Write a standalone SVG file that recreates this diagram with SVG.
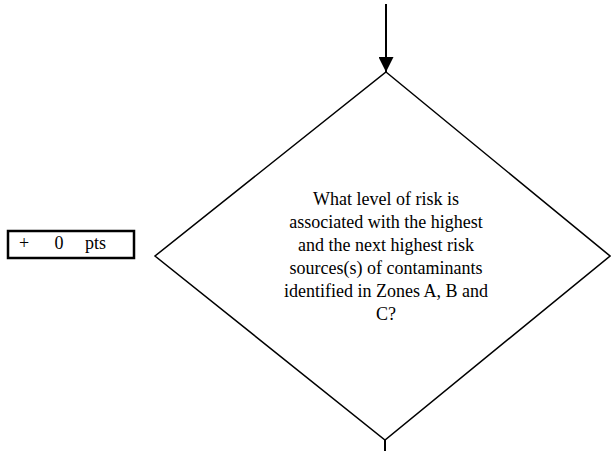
<svg xmlns="http://www.w3.org/2000/svg" width="611" height="451" viewBox="0 0 611 451">
<style>
text{font-family:"Liberation Serif","Times New Roman",serif;font-size:18px;fill:#000}
.c{text-anchor:middle}
.ln{stroke:#000;stroke-width:2;fill:none}
</style>
<defs>
<marker id="ah" markerWidth="15" markerHeight="15" refX="15" refY="7.5" orient="auto" markerUnits="userSpaceOnUse">
<path d="M0,0 L15,7.5 L0,15 Z" fill="#000"/>
</marker>
</defs>
<rect width="611" height="451" fill="#fff"/>
<g id="connectors">
<line class="ln" x1="386" y1="4" x2="386" y2="72" marker-end="url(#ah)"/>
<line class="ln" x1="385" y1="440" x2="385" y2="451"/>
</g>
<g id="score">
<rect x="8" y="231" width="126" height="27" fill="#fff" stroke="#000" stroke-width="2.5"/>
<text x="24" y="249" class="c">+</text>
<text x="59" y="249" class="c">0</text>
<text x="85" y="249">pts</text>
</g>
<g id="decision">
<polygon points="386,72 610,256 385,440 155,256" fill="#fff" stroke="#000" stroke-width="1.5"/>
<text class="c" x="386" y="205">What level of risk is</text>
<text class="c" x="386" y="228">associated with the highest</text>
<text class="c" x="386" y="251">and the next highest risk</text>
<text class="c" x="386" y="274">sources(s) of contaminants</text>
<text class="c" x="386" y="297">identified in Zones A, B and</text>
<text class="c" x="386" y="320">C?</text>
</g>
</svg>
